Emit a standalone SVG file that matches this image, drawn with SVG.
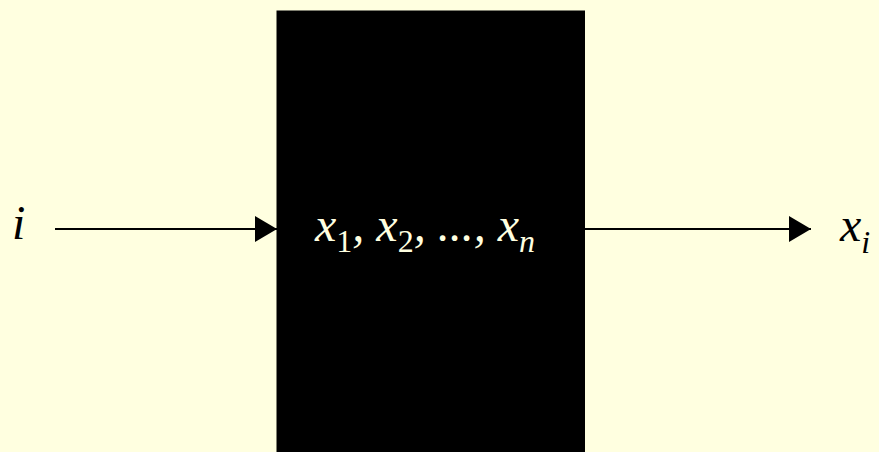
<svg xmlns="http://www.w3.org/2000/svg" width="879" height="452" viewBox="0 0 879 452">
<style>
.bg{fill:#FFFFE0}
.conn{stroke:#000;stroke-width:2;fill:none}
text{font-family:'Liberation Serif','DejaVu Serif',serif}
.math{font-style:italic;font-size:48px}
.sub{font-size:32px}
.up{font-style:normal}
.dark{fill:#000}
.light{fill:#FFFFE0}
</style>
<defs>
<marker id="arrow" viewBox="0 0 22 26" refX="22" refY="13" markerWidth="22" markerHeight="26" markerUnits="userSpaceOnUse" orient="auto">
<path d="M0,0 L22,13 L0,26 Z" fill="#000"/>
</marker>
</defs>
<rect class="bg" x="0" y="0" width="879" height="452"/>
<g id="node-box">
<rect x="276.5" y="10.5" width="308.5" height="445" fill="#000"/>
<text class="math light" x="315" y="241">x<tspan class="sub up" dy="11">1</tspan><tspan dy="-11">, x</tspan><tspan class="sub up" dy="11">2</tspan><tspan dy="-11">, ..., x</tspan><tspan class="sub" dy="11">n</tspan></text>
</g>
<g id="node-input">
<text class="math dark" x="12" y="239">i</text>
</g>
<g id="node-output">
<text class="math dark" x="840" y="241">x<tspan class="sub" dy="12">i</tspan></text>
</g>
<g id="connectors">
<line class="conn" x1="55" y1="229" x2="277" y2="229" marker-end="url(#arrow)"/>
<line class="conn" x1="585" y1="229" x2="811" y2="229" marker-end="url(#arrow)"/>
</g>
</svg>
